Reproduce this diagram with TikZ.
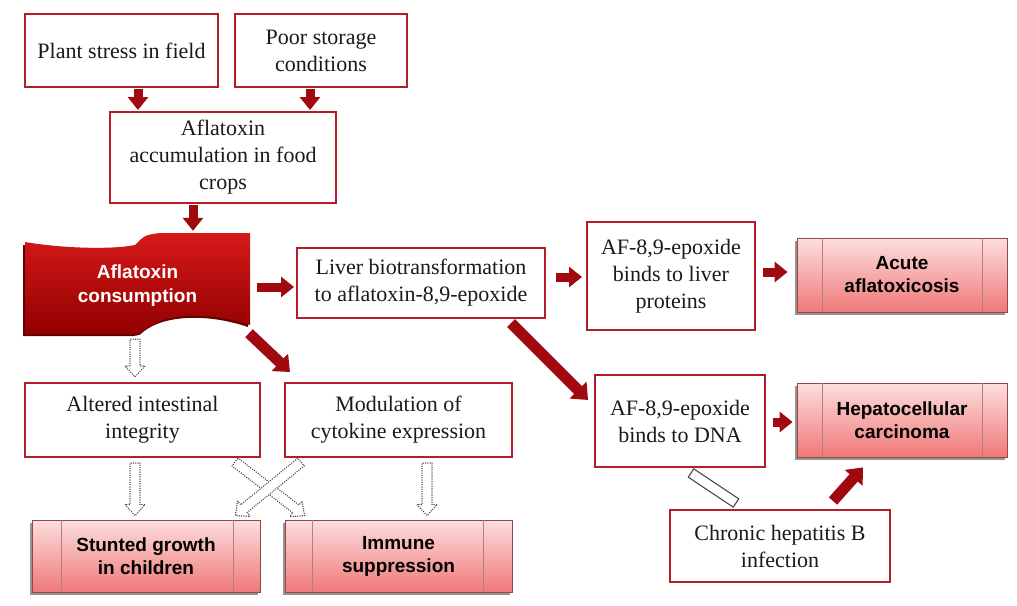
\documentclass[tikz,border=0pt]{standalone}
\usepackage{fontspec}
\setmainfont{Liberation Serif}
\newfontfamily\arialf{Liberation Sans}
\usetikzlibrary{arrows.meta,calc,shadows}
\definecolor{boxred}{RGB}{180,30,40}
\definecolor{arrred}{RGB}{160,10,15}
\definecolor{pinktop}{RGB}{253,222,222}
\definecolor{pinkbot}{RGB}{240,120,120}
\definecolor{pinkline}{RGB}{150,70,70}
\definecolor{bantop}{RGB}{215,25,25}
\definecolor{banbot}{RGB}{145,0,0}
\definecolor{txt}{RGB}{30,25,25}
\definecolor{dotgray}{RGB}{70,70,70}

\newcommand\holarrow[3][]{%
 \coordinate (hac) at ($(#3)!11pt!(#2)$);
 \draw[hollow,#1] ($(#2)!5pt!90:(#3)$) -- ($(hac)!5pt!90:(#3)$) -- ($(hac)!10pt!90:(#3)$) -- (#3) -- ($(hac)!10pt!-90:(#3)$) -- ($(hac)!5pt!-90:(#3)$) -- ($(#2)!5pt!-90:(#3)$) -- cycle;}
\newcommand\holbar[3][]{%
 \draw[hollowbar,#1] ($(#2)!5pt!90:(#3)$) -- ($(#3)!5pt!-90:(#2)$) -- ($(#3)!5pt!90:(#2)$) -- ($(#2)!5pt!-90:(#3)$) -- cycle;}

\begin{document}
\begin{tikzpicture}[x=1pt,y=-1pt,
 box/.style={draw=boxred, line width=2pt, fill=white, align=center, inner sep=2pt, text=txt, font=\fontsize{22}{27}\selectfont},
 pinkbox/.style={draw=pinkline, line width=0.8pt, top color=pinktop, bottom color=pinkbot, align=center, text=black, inner sep=2pt, font=\arialf\bfseries\fontsize{19}{23}\selectfont, drop shadow={shadow xshift=-2.5pt, shadow yshift=-2.5pt, opacity=0.6, fill=black!70}},
 redarr/.style={draw=arrred, line width=9pt, -{Triangle[width=20pt,length=13pt]}},
 bigarr/.style={redarr, line width=11pt, -{Triangle[width=23pt,length=14pt]}},
 hollow/.style={draw=dotgray, fill=white, line width=1.5pt, line cap=round, dash pattern=on 0pt off 2.3pt, line join=round},
 hollowbar/.style={draw=dotgray, fill=white, line width=1pt},
 innerline/.style={draw=pinkline!70, line width=0.8pt}]
\useasboundingbox (0,0) rectangle (1017,605);

% banner
\fill[banbot!70!black] (23,245) .. controls (60,251) and (110,253) .. (133,248) .. controls (143,238) .. (158,236) -- (248,236) -- (248,327) .. controls (210,314) and (165,314) .. (143,332) .. controls (140,335) .. (133,336) -- (23,336) -- cycle;
\shade[top color=bantop, bottom color=banbot] (25,242) .. controls (60,248) and (110,250) .. (135,245) .. controls (145,235) .. (160,233) -- (250,233) -- (250,325) .. controls (210,312) and (165,312) .. (145,330) .. controls (142,333) .. (135,334) -- (25,334) -- cycle;
\node[font=\arialf\bfseries\fontsize{19}{24}\selectfont, text=white, align=center, minimum width=225pt, minimum height=100pt, inner sep=0] (cons) at (137.5,286) {Aflatoxin\\consumption};

% boxes
\node[box, minimum width=193pt, minimum height=73pt] (ps) at (121.5,50.5) {Plant stress in field};
\node[box, minimum width=172pt, minimum height=73pt] (poor) at (321,50.5) {Poor storage\\conditions};
\node[box, minimum width=226pt, minimum height=91pt] (acc) at (223,157.5) {Aflatoxin\\accumulation in food\\crops};
\node[box, minimum width=248pt, minimum height=70pt] (liver) at (421,283) {Liver biotransformation\\to aflatoxin-8,9-epoxide};
\node[box, minimum width=168pt, minimum height=108pt] (prot) at (671,276) {AF-8,9-epoxide\\binds to liver\\proteins};
\node[box, minimum width=170pt, minimum height=92pt] (dna) at (680,421) {AF-8,9-epoxide\\binds to DNA};
\node[box, minimum width=220pt, minimum height=72pt] (chb) at (780,546) {Chronic hepatitis B\\infection};
\node[box, minimum width=235pt, minimum height=74pt] (alt) at (142.5,420) {Altered intestinal\\integrity};
\node[box, minimum width=227pt, minimum height=74pt] (mod) at (398.5,420) {Modulation of\\cytokine expression};

\node[pinkbox, minimum width=210pt, minimum height=74pt] (acute) at (902,275) {Acute\\aflatoxicosis};
\node[pinkbox, minimum width=210pt, minimum height=74pt] (hcc) at (902,420) {Hepatocellular\\carcinoma};
\node[pinkbox, minimum width=228pt, minimum height=72pt] (stunt) at (146,556) {Stunted growth\\in children};
\node[pinkbox, minimum width=227pt, minimum height=72pt] (imm) at (398.5,556) {Immune\\suppression};
\foreach \n/\a/\b in {acute/26/25, hcc/26/25, stunt/30/27, imm/28/29}{
  \draw[innerline] ($(\n.north west)+(\a,0)$) -- ($(\n.south west)+(\a,0)$);
  \draw[innerline] ($(\n.north east)+(-\b,0)$) -- ($(\n.south east)+(-\b,0)$);
}

% red arrows
\draw[redarr] ($(ps.south)+(16.5,1)$) -- ($(acc.north)+(-85,-1)$);
\draw[redarr] ($(poor.south)+(-11,1)$) -- ($(acc.north)+(87,-1)$);
\draw[redarr] ($(acc.south)+(-30,1)$) -- ($(cons.north)+(55.5,-5)$);
\draw[redarr] ($(cons.east)+(7,1)$) -- ($(liver.west)+(-2,4)$);
\draw[redarr] ($(liver.east)+(10,-6)$) -- ($(prot.west)+(-4,1)$);
\draw[redarr] ($(prot.east)+(7,-4)$) -- ($(acute.west)+(-9,-3)$);
\draw[bigarr] ($(liver.south)+(90,4)$) -- ($(dna.west)+(-6,-21)$);
\draw[redarr] ($(dna.east)+(7,1)$) -- ($(hcc.west)+(-4,2)$);
\draw[bigarr] ($(chb.north)+(53,-8)$) -- ($(hcc.south)+(-39,10)$);
\draw[bigarr] ($(cons.south)+(111.5,-3)$) -- ($(mod.north west)+(6,-10)$);

% hollow dotted arrows
\coordinate (h1a) at ($(cons.south)+(-2.5,3)$);
\coordinate (h1b) at ($(alt.north)+(-7.5,-5)$);
\coordinate (h2a) at ($(alt.south)+(-7.5,5)$);
\coordinate (h2b) at ($(stunt.north)+(-11,-4)$);
\coordinate (h3a) at ($(mod.south)+(28.5,5)$);
\coordinate (h3b) at ($(imm.north)+(28.5,-4)$);
\coordinate (h4a) at ($(mod.south west)+(17,4)$);
\coordinate (h4b) at ($(stunt.north east)+(-25,-4)$);
\coordinate (h5a) at ($(alt.south east)+(-26,4)$);
\coordinate (h5b) at ($(imm.north west)+(20,-4)$);
\holarrow{h1a}{h1b}
\holarrow{h2a}{h2b}
\holarrow{h3a}{h3b}
\holarrow{h5a}{h5b}
\holarrow{h4a}{h4b}

% hollow bar
\coordinate (hb1) at ($(dna.south)+(11,5)$);
\coordinate (hb2) at ($(chb.north)+(-44,-6)$);
\holbar{hb1}{hb2}
\end{tikzpicture}
\end{document}
